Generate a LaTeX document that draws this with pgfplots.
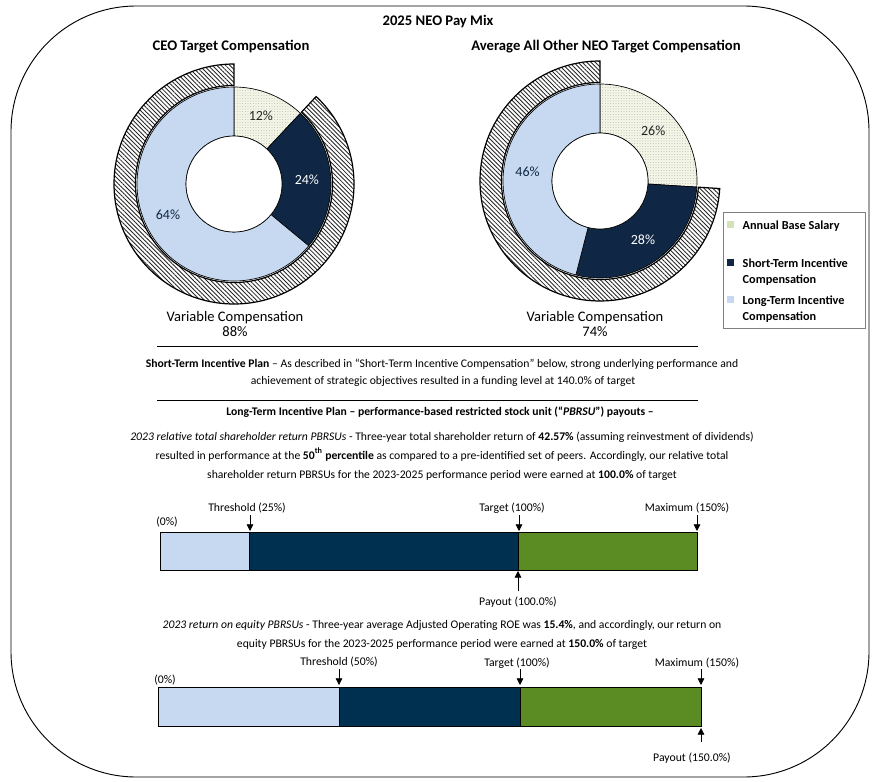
\documentclass[border=0pt]{standalone}
\usepackage{pgfplots}
\pgfplotsset{compat=1.18}
\usepackage{pgfplotstable}
\usetikzlibrary{patterns.meta,arrows.meta,calc}
\usepackage{fontspec}
\setmainfont{Carlito}
\definecolor{ltblue}{HTML}{C6D9F1}
\definecolor{navyD}{HTML}{0F2744}
\definecolor{navyB}{HTML}{003050}
\definecolor{grn}{HTML}{5A8C23}
\definecolor{cream}{HTML}{F3F6E6}
\definecolor{legbase}{HTML}{D4E3B5}
\definecolor{legline}{HTML}{808080}

\pgfplotstableread{
part pct
base 12
sti 24
lti 64
}\ceotab
\pgfplotstableread{
part pct
base 26
sti 28
lti 46
}\neotab

% segment of a ring: from% to% rin(pt) rout(pt) style
\newcommand\seg[5]{%
  \path[#5] ($(axis cs:0,0)+({90-3.6*(#1)}:#3pt)$)
    arc[start angle={90-3.6*(#1)}, end angle={90-3.6*(#2)}, radius=#3pt]
    -- ($(axis cs:0,0)+({90-3.6*(#2)}:#4pt)$)
    arc[start angle={90-3.6*(#2)}, end angle={90-3.6*(#1)}, radius=#4pt] -- cycle;}
\newcommand\seglabel[3]{%
  \node[font=\fP, text=#3] at ($(axis cs:0,0)+({90-3.6*(#1)}:54.75pt)$) {#2};}

\newcommand\fT{\fontsize{11}{13}\selectfont\bfseries}
\newcommand\fB{\fontsize{8.75}{10}\selectfont}
\newcommand\fS{\fontsize{8.8}{10}\selectfont}
\newcommand\fL{\fontsize{9.2}{11}\selectfont\bfseries}
\newcommand\fP{\fontsize{10.5}{12}\selectfont}
\newcommand\fV{\fontsize{10.9}{12}\selectfont}

\tikzset{
  hatch/.style={draw=black, line width=0.9pt, pattern={Lines[angle=-45,distance=2.3pt,line width=0.65pt]}, pattern color=black!85},
  basefill/.style={draw=black, line width=0.5pt, preaction={fill=cream}, pattern={Dots[distance=2pt,radius=0.3pt]}, pattern color=black!45},
  stifill/.style={draw=black, line width=0.5pt, fill=navyD},
  ltifill/.style={draw=black, line width=0.5pt, fill=ltblue},
}
\pgfplotsset{donut/.style={anchor=center, x=0.75pt, y=0.75pt,
  xmin=-125, xmax=125, ymin=-125, ymax=125, hide axis, clip=false},
  pbar/.style={anchor=south west, scale only axis, xmin=0, xmax=150, ymin=0, ymax=1,
    hide axis, clip=false, xbar stacked, bar width=28.5pt, enlargelimits=false},
}

\begin{document}
\begin{tikzpicture}[x=0.75pt, y=-0.75pt]
\path (0,0) rectangle (884,781);
\draw[line width=0.7pt, rounded corners=94pt] (11,6) rectangle (869,777);

% ---- titles
\node[font=\fT, anchor=base] at (438,26) {2025 NEO Pay Mix};
\node[font=\fT, anchor=base] at (231,51) {CEO Target Compensation};
\node[font=\fT, anchor=base] at (606,51) {Average All Other NEO Target Compensation};

% ---- data values
\pgfplotstablegetelem{0}{pct}\of\ceotab \edef\ceoA{\pgfplotsretval}
\pgfplotstablegetelem{1}{pct}\of\ceotab \edef\ceoB{\pgfplotsretval}
\pgfplotstablegetelem{2}{pct}\of\ceotab \edef\ceoC{\pgfplotsretval}
\pgfplotstablegetelem{0}{pct}\of\neotab \edef\neoA{\pgfplotsretval}
\pgfplotstablegetelem{1}{pct}\of\neotab \edef\neoB{\pgfplotsretval}
\pgfplotstablegetelem{2}{pct}\of\neotab \edef\neoC{\pgfplotsretval}
\pgfmathtruncatemacro\ceoAB{\ceoA+\ceoB}
\pgfmathtruncatemacro\neoAB{\neoA+\neoB}
\pgfmathtruncatemacro\ceoV{\ceoB+\ceoC}
\pgfmathtruncatemacro\neoV{\neoB+\neoC}

% ---- CEO donut  (centre at px 234,184)
\begin{axis}[donut, at={(175.5pt,-138pt)}]
\addplot[draw=none] coordinates {(0,0)};
\seg{\ceoA}{100}{73.9}{90}{hatch}
\seg{0}{\ceoA}{36}{72.75}{basefill}
\seg{\ceoA}{\ceoAB}{36}{72.75}{stifill}
\seg{\ceoAB}{100}{36}{72.75}{ltifill}
\draw[fill=white, line width=0.5pt] (axis cs:0,0) circle[radius=36pt];
\seglabel{\ceoA/2}{\ceoA\%}{black!85}
\seglabel{\ceoA+\ceoB/2}{\ceoB\%}{white}
\seglabel{\ceoAB+\ceoC/2}{\ceoC\%}{navyD}
\end{axis}

% ---- NEO donut  (centre at px 600,181)
\begin{axis}[donut, at={(450pt,-135.75pt)}]
\addplot[draw=none] coordinates {(0,0)};
\seg{\neoA}{100}{73.9}{90}{hatch}
\seg{0}{\neoA}{36}{72.75}{basefill}
\seg{\neoA}{\neoAB}{36}{72.75}{stifill}
\seg{\neoAB}{100}{36}{72.75}{ltifill}
\draw[fill=white, line width=0.5pt] (axis cs:0,0) circle[radius=36pt];
\seglabel{\neoA/2}{\neoA\%}{black!85}
\seglabel{\neoA+\neoB/2}{\neoB\%}{white}
\seglabel{\neoAB+\neoC/2}{\neoC\%}{navyD}
\end{axis}

\node[font=\fV, anchor=base] at (235,321) {Variable Compensation};
\node[font=\fV, anchor=base] at (235,336) {\ceoV\%};
\node[font=\fV, anchor=base] at (595,321) {Variable Compensation};
\node[font=\fV, anchor=base] at (595,336) {\neoV\%};

% ---- legend
\draw[legline, line width=0.6pt] (723,212) rectangle (865,328);
\fill[legbase] (727,221) rectangle (734,228);
\fill[navyD] (727,259) rectangle (734,266);
\fill[ltblue] (727,296) rectangle (734,303);
\node[font=\fL, anchor=base west] at (738,229) {Annual Base Salary};
\node[font=\fL, anchor=base west] at (738,267) {Short-Term Incentive};
\node[font=\fL, anchor=base west] at (738,283) {Compensation};
\node[font=\fL, anchor=base west] at (738,304) {Long-Term Incentive};
\node[font=\fL, anchor=base west] at (738,320) {Compensation};

% ---- text
\draw[line width=0.7pt] (157,346) -- (698,346);
\draw[line width=0.7pt] (157,400) -- (698,400);
\node[font=\fB, anchor=base] at (442,367) {\textbf{Short-Term Incentive Plan} – As described in “Short-Term Incentive Compensation” below, strong underlying performance and};
\node[font=\fB, anchor=base] at (443,384) {achievement of strategic objectives resulted in a funding level at 140.0\% of target};
\node[font=\fB\bfseries, anchor=base] at (440,415) {Long-Term Incentive Plan – performance-based restricted stock unit (“\textit{PBRSU}”) payouts –};
\node[font=\fB, anchor=base] at (442,440) {\textit{2023 relative total shareholder return PBRSUs} - Three-year total shareholder return of \textbf{42.57\%} (assuming reinvestment of dividends)};
\node[font=\fB, anchor=base] at (442,459) {resulted in performance at the \textbf{50\textsuperscript{th} percentile} as compared to a pre-identified set of peers. Accordingly, our relative total};
\node[font=\fB, anchor=base] at (442,478) {shareholder return PBRSUs for the 2023-2025 performance period were earned at \textbf{100.0\%} of target};
\node[font=\fB, anchor=base] at (442,628) {\textit{2023 return on equity PBRSUs} - Three-year average Adjusted Operating ROE was \textbf{15.4\%}, and accordingly, our return on};
\node[font=\fB, anchor=base] at (442,647) {equity PBRSUs for the 2023-2025 performance period were earned at \textbf{150.0\%} of target};

% ---- bar 1 (TSR)  (px 160..697, 532..570)
\begin{axis}[pbar, at={(120pt,-427.5pt)}, width=402.75pt, height=28.5pt]
\addplot[fill=ltblue, draw=black, line width=0.4pt] coordinates {(25,0.5)};
\addplot[fill=navyB, draw=black, line width=0.4pt] coordinates {(75,0.5)};
\addplot[fill=grn, draw=black, line width=0.4pt] coordinates {(50,0.5)};
\end{axis}
\node[font=\fS, anchor=base] at (167,525) {(0\%)};
\node[font=\fS, anchor=base] at (247,511) {Threshold (25\%)};
\node[font=\fS, anchor=base] at (512,511) {Target (100\%)};
\node[font=\fS, anchor=base] at (687,511) {Maximum (150\%)};
\draw[-{Triangle[length=5pt,width=5pt]}, line width=0.6pt] (250,515) -- (250,531);
\draw[-{Triangle[length=5pt,width=5pt]}, line width=0.6pt] (519,515) -- (519,531);
\draw[-{Triangle[length=5pt,width=5pt]}, line width=0.6pt] (697,515) -- (697,531);
\draw[-{Triangle[length=5pt,width=5pt]}, line width=0.6pt] (518,591) -- (518,571);
\node[font=\fS, anchor=base] at (518,605) {Payout (100.0\%)};

% ---- bar 2 (ROE)  (px 158..701, 687..726)
\begin{axis}[pbar, at={(118.5pt,-544.5pt)}, width=407.25pt, height=29.25pt, bar width=29.25pt]
\addplot[fill=ltblue, draw=black, line width=0.4pt] coordinates {(50,0.5)};
\addplot[fill=navyB, draw=black, line width=0.4pt] coordinates {(50,0.5)};
\addplot[fill=grn, draw=black, line width=0.4pt] coordinates {(50,0.5)};
\end{axis}
\node[font=\fS, anchor=base] at (165,683) {(0\%)};
\node[font=\fS, anchor=base] at (339,665) {Threshold (50\%)};
\node[font=\fS, anchor=base] at (517,666) {Target (100\%)};
\node[font=\fS, anchor=base] at (697,666) {Maximum (150\%)};
\draw[-{Triangle[length=5pt,width=5pt]}, line width=0.6pt] (339,669) -- (339,685);
\draw[-{Triangle[length=5pt,width=5pt]}, line width=0.6pt] (520,669) -- (520,685);
\draw[-{Triangle[length=5pt,width=5pt]}, line width=0.6pt] (701,669) -- (701,685);
\draw[-{Triangle[length=5pt,width=5pt]}, line width=0.6pt] (701,742) -- (701,728);
\node[font=\fS, anchor=base] at (692,761) {Payout (150.0\%)};
\end{tikzpicture}
\end{document}
